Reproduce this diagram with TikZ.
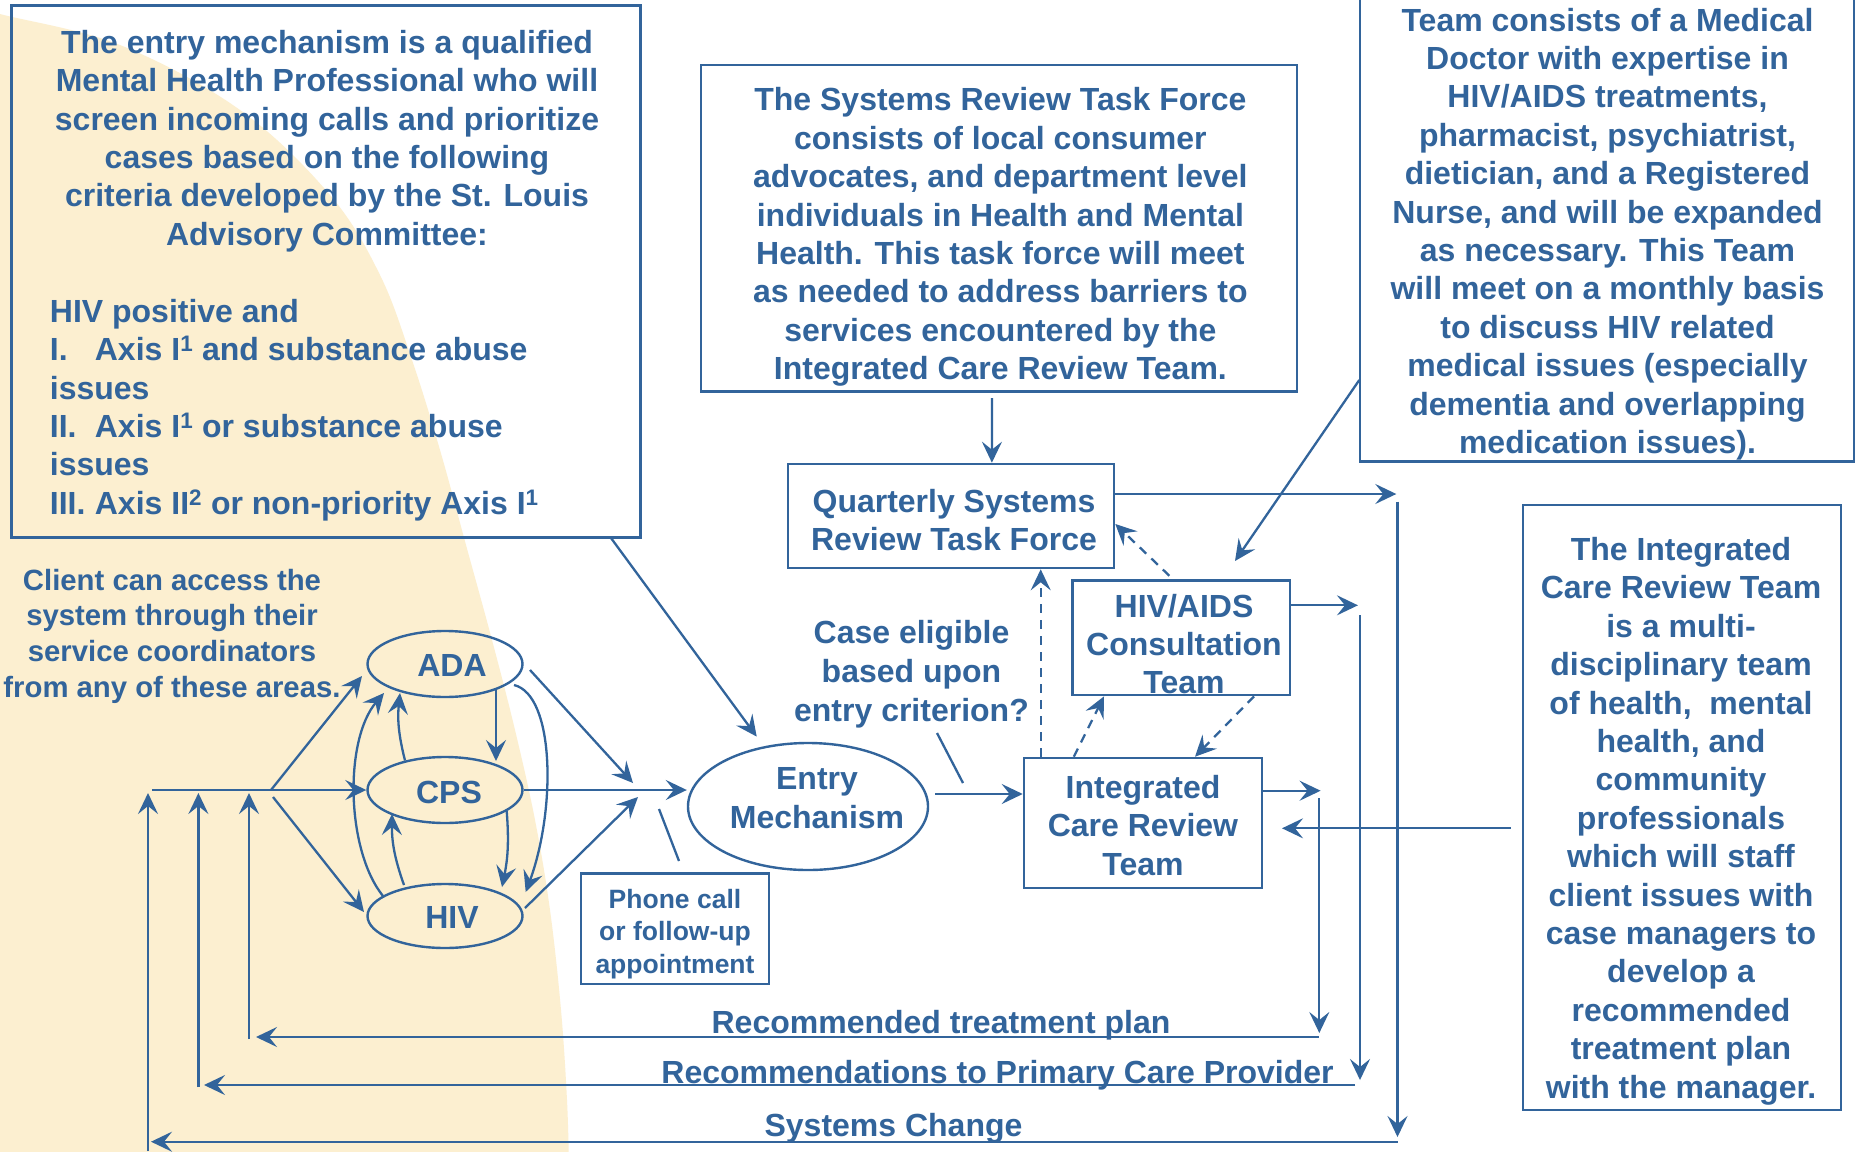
\documentclass[tikz,border=0pt]{standalone}
\usepackage{fontspec}
\setmainfont{Liberation Sans}
\usetikzlibrary{arrows.meta,shapes.geometric}

\definecolor{ink}{RGB}{50,100,155}
\definecolor{sand}{RGB}{252,239,208}

\tikzset{
  txt/.style={text=ink, inner sep=0pt, align=center,
    font=\fontsize{32}{38.4}\selectfont\bfseries},
  midtxt/.style={txt, font=\fontsize{29.3}{35.7}\selectfont\bfseries},
  smalltxt/.style={txt, font=\fontsize{26.5}{32.5}\selectfont\bfseries},
  boxframe/.style={draw=ink, line width=2.6pt, rectangle, inner sep=0pt},
  ovalnode/.style={draw=ink, line width=2.4pt, ellipse, inner sep=0pt},
  linkline/.style={draw=ink, line width=2.3pt},
  flowarrow/.style={linkline, -{Stealth[length=21pt,width=20pt,inset=8pt]}},
  dashflow/.style={flowarrow, dash pattern=on 9pt off 7pt},
}

\begin{document}
\begin{tikzpicture}[x=1pt,y=-1pt]
\useasboundingbox (0,0) rectangle (1860,1151);
\clip (0,0) rectangle (1860,1151);
\fill[white] (0,0) rectangle (1860,1151);

% sand-coloured backdrop on the left
\fill[sand] plot[smooth, tension=0.6] coordinates {(-10,8) (0,14) (120,45) (240,110) (330,195) (380,275) (412,360) (440,450) (466,545) (492,640) (515,730) (535,820) (550,910) (561,1010) (567,1100) (569,1165)} -- (-10,1165) -- cycle;

% ---------- description boxes ----------
\node[boxframe, minimum width=629pt, minimum height=532pt] (critbox) at (326.2,271.3) {};
\node[txt] (crithead) at (327,141) {The entry mechanism is a qualified\\Mental Health Professional who will\\screen incoming calls and prioritize\\cases based on the following\\criteria developed by the St. Louis\\Advisory Committee:};
\node[txt, align=left, anchor=west] (critlist) at (49.7,410) {HIV positive and\\\makebox[45pt][l]{I.}Axis I\textsuperscript{1} and substance abuse\\issues\\\makebox[45pt][l]{II.}Axis I\textsuperscript{1} or substance abuse\\issues\\\makebox[45pt][l]{III.}Axis II\textsuperscript{2} or non-priority Axis I\textsuperscript{1}};

\node[boxframe, minimum width=596pt, minimum height=326.7pt] (taskbox) at (999,228.4) {};
\node[txt] (tasktext) at (1000.4,237) {The Systems Review Task Force\\consists of local consumer\\advocates, and department level\\individuals in Health and Mental\\Health. This task force will meet\\as needed to address barriers to\\services encountered by the\\Integrated Care Review Team.};

\node[boxframe, minimum width=494pt, minimum height=471.7pt] (medbox) at (1607,225.9) {};
\node[txt] (medtext) at (1607.5,234) {Team consists of a Medical\\Doctor with expertise in\\HIV/AIDS treatments,\\pharmacist, psychiatrist,\\dietician, and a Registered\\Nurse, and will be expanded\\as necessary. This Team\\will meet on a monthly basis\\to discuss HIV related\\medical issues (especially\\dementia and overlapping\\medication issues).};

\node[boxframe, minimum width=318pt, minimum height=605pt] (teambox) at (1682,807.5) {};
\node[txt] (teamtext) at (1681,821) {The Integrated\\Care Review Team\\is a multi-\\disciplinary team\\of health,\ \ mental\\health, and\\community\\professionals\\which will staff\\client issues with\\case managers to\\develop a\\recommended\\treatment plan\\with the manager.};

% ---------- process boxes ----------
\node[boxframe, minimum width=326.2pt, minimum height=104pt] (qbox) at (950.9,516) {};
\node[txt] (qtext) at (954,520) {Quarterly Systems\\Review Task Force};
\node[boxframe, minimum width=217.5pt, minimum height=114.5pt] (hivbox) at (1181.2,637.8) {};
\node[txt] (hivtext) at (1184,644) {HIV/AIDS\\Consultation\\Team};
\node[boxframe, minimum width=238pt, minimum height=130pt] (icrbox) at (1143,823) {};
\node[txt] (icrtext) at (1143,825.5) {Integrated\\Care Review\\Team};
\node[boxframe, minimum width=188pt, minimum height=110.5pt] (phonebox) at (675,928.8) {};
\node[smalltxt] (phonetext) at (675,934) {Phone call\\or follow-up\\appointment};

% ---------- ellipses ----------
\node[ovalnode, minimum width=155pt, minimum height=66pt] (ADA) at (445,664) {};
\node[ovalnode, minimum width=155pt, minimum height=66pt] (CPS) at (445,790) {};
\node[ovalnode, minimum width=155pt, minimum height=64pt] (HIV) at (445,916) {};
\node[ovalnode, minimum width=240pt, minimum height=127pt] (Entry) at (808,806.5) {};
\node[txt] (adalabel) at (452,665) {ADA};
\node[txt] (cpslabel) at (449,792.5) {CPS};
\node[txt] (hivlabel) at (452,917) {HIV};
\node[txt] (entrylabel) at (817,798) {Entry\\Mechanism};

% ---------- free labels ----------
\node[midtxt] (clienttext) at (172,636) {Client can access the\\system through their\\service coordinators\\from any of these areas.};
\node[txt, font=\fontsize{32}{39}\selectfont\bfseries] (casetext) at (911.5,674) {Case eligible\\based upon\\entry criterion?};
\node[txt, anchor=base] (treatlabel) at (941,1033) {Recommended treatment plan};
\node[txt, anchor=base] (pcplabel) at (997.6,1083) {Recommendations to Primary Care Provider};
\node[txt, anchor=base] (syslabel) at (893.5,1136.5) {Systems Change};

% ---------- connector end points ----------
\coordinate (feedstart) at (152,790);
\coordinate (forkup) at (271,790);
\coordinate (forkdown) at (273,797);
\coordinate (adain) at (362,676);
\coordinate (hivin) at (364,912);
\coordinate (critout) at (611,538);
\coordinate (adaout) at (530,670);
\coordinate (adafeed) at (633,783);
\coordinate (hivout) at (525,908);
\coordinate (hivfeed) at (638,797);
\coordinate (casefoot) at (937,733);
\coordinate (casehook) at (963,783);
\coordinate (phonetop) at (679,861);
\coordinate (phonehook) at (659,809);
\coordinate (medout) at (1359.3,380);
\coordinate (hivtop) at (1235,561);
% return routes
\coordinate (qturn) at (1397.5,501.7);
\coordinate (qdown) at (1397.5,1137);
\coordinate (sysright) at (1397.5,1141.7);
\coordinate (sysleft) at (151,1141.7);
\coordinate (sysfoot) at (148,1151);
\coordinate (systop) at (148,793);
\coordinate (hturn) at (1360,615);
\coordinate (hdown) at (1360,1080);
\coordinate (pcpright) at (1355,1085);
\coordinate (pcpleft) at (204,1085);
\coordinate (pcpfoot) at (198.4,1087);
\coordinate (pcptop) at (198.4,793);
\coordinate (iturn) at (1319.3,798);
\coordinate (idown) at (1319.3,1033);
\coordinate (treatright) at (1318.6,1037);
\coordinate (treatleft) at (256,1037);
\coordinate (treatfoot) at (249,1039);
\coordinate (treattop) at (249,793);
% arrows between the agency ellipses
\coordinate (adadrop) at (496,689);
\coordinate (cpsreach) at (496,761);
\coordinate (cpsup) at (405,760.5);
\coordinate (adareach) at (400,693);
\coordinate (cpsdrop) at (506.7,811);
\coordinate (hivreach) at (502,887);
\coordinate (hivup) at (404,885);
\coordinate (cpsreach2) at (392,814);
\coordinate (hivleft) at (383,896);
\coordinate (adaleft) at (384,693);
\coordinate (adaright) at (514,685);
\coordinate (hivright) at (525.7,892);

% ---------- connectors ----------
% client access fan
\draw[flowarrow] (feedstart) -- (CPS.west);
\draw[flowarrow] (forkup) -- (adain);
\draw[flowarrow] (forkdown) -- (hivin);

% agency ellipses among themselves
\draw[flowarrow] (adadrop) -- (cpsreach);
\draw[flowarrow] (cpsup) to[bend left=10] (adareach);
\draw[flowarrow] (cpsdrop) to[bend left=8] (hivreach);
\draw[flowarrow] (hivup) to[bend left=10] (cpsreach2);
\draw[flowarrow] (hivleft) .. controls (346,850) and (344,740) .. (adaleft);
\draw[flowarrow] (adaright) .. controls (555,695) and (556,810) .. (hivright);

% into the entry mechanism
\draw[flowarrow] (adaout) -- (adafeed);
\draw[flowarrow] (hivout) -- (hivfeed);
\draw[flowarrow] (CPS.east) -- (CPS.east -| Entry.west);
\draw[flowarrow, shorten >=12pt] (critout) -- (Entry);
\draw[linkline] (phonehook) -- (phonetop);

% entry to the review team
\draw[flowarrow, shorten <=6pt] ([yshift=12.5pt]Entry.east) -- ++(93.5,0);
\draw[linkline] (casefoot) -- (casehook);

% task force and consultation links
\draw[flowarrow, shorten <=5pt] ([xshift=-7pt]taskbox.south) -- ([xshift=41pt]qbox.north);
\draw[flowarrow] (medout) -- (hivtop);
\draw[dashflow] ([xshift=-102.3pt]icrbox.north) -- ([xshift=89.8pt]qbox.south);
\draw[dashflow] ([xshift=-69.2pt]icrbox.north) -- ([xshift=-77.2pt]hivbox.south);
\draw[dashflow] ([xshift=72.8pt]hivbox.south) -- ([xshift=52pt]icrbox.north);
\draw[dashflow, shorten <=5pt] ([xshift=-8.2pt]hivbox.north) -- ([yshift=-8pt]qbox.east);
\draw[flowarrow, shorten <=11pt] ([yshift=-20.8pt]teambox.west) -- ++(-239.7,0);

% outputs to the right
\draw[flowarrow] ([yshift=22pt]qbox.east) -- ++(281,0);
\draw[flowarrow] ([yshift=32.5pt]hivbox.east) -- ++(66.7,0);
\draw[flowarrow] ([yshift=32.3pt]icrbox.east) -- ++(57.3,0);

% return routes back to the client side
\draw[flowarrow] (qturn) -- (qdown);
\draw[flowarrow] (sysright) -- (sysleft);
\draw[flowarrow] (sysfoot) -- (systop);
\draw[flowarrow] (hturn) -- (hdown);
\draw[flowarrow] (pcpright) -- (pcpleft);
\draw[flowarrow] (pcpfoot) -- (pcptop);
\draw[flowarrow] (iturn) -- (idown);
\draw[flowarrow] (treatright) -- (treatleft);
\draw[flowarrow] (treatfoot) -- (treattop);
\end{tikzpicture}
\end{document}
